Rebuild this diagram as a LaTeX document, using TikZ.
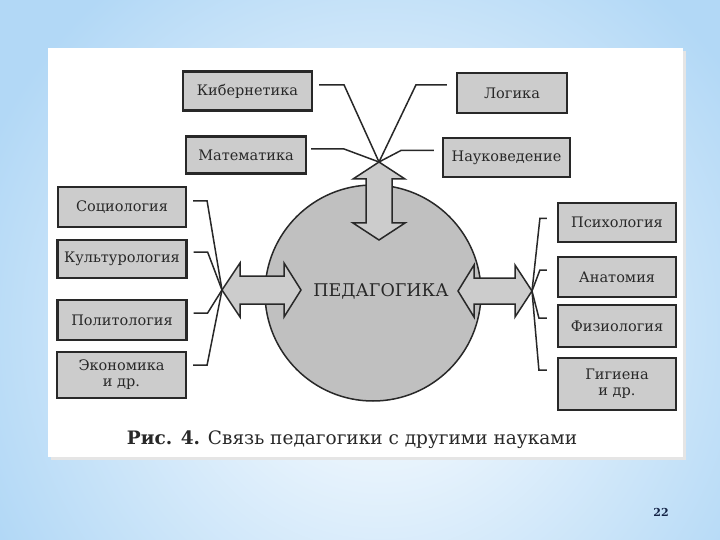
\documentclass[tikz,border=0pt]{standalone}
\usepackage{fontspec}
\setmainfont{DejaVu Serif}
\usetikzlibrary{positioning}
\definecolor{bgblue}{RGB}{178,216,246}
\definecolor{boxgray}{RGB}{204,204,204}
\definecolor{inkgray}{RGB}{40,40,40}
\definecolor{pagenum}{RGB}{20,35,70}

\begin{document}
\begin{tikzpicture}
    [x=1pt, y=-1pt,
     science/.style={draw=inkgray, line width=2.2pt, fill=boxgray, text=inkgray,
        align=center, inner sep=2pt, font=\fontsize{14.5}{16}\selectfont},
     link/.style={draw=inkgray, line width=1.5pt},
     bigarrow/.style={draw=inkgray, line width=1.5pt, fill=boxgray, line join=miter}]
    \useasboundingbox (0,0) rectangle (720,540);
    % slide background
    \fill[bgblue] (0,0) rectangle (720,540);
    \shade[inner color=white, outer color=bgblue] (380,330) ellipse (430 and 440);
    \fill[black!10] (51,51) rectangle (686,460);
    \fill[white] (48,48) rectangle (683,457);

    % central circle
    \node[circle, draw=inkgray, line width=1.5pt, fill=boxgray!94!black,
        minimum size=216pt, inner sep=0pt] (ped) at (373,293) {};

    % upper sciences
    \node[science, minimum width=129pt, minimum height=39pt] (kib) at (247.5,91) {Кибернетика};
    \node[science, minimum width=110pt, minimum height=40pt] (log) at (512,93) {Логика};
    \node[science, minimum width=120pt, minimum height=37pt] (mat) at (246,155) {Математика};
    \node[science, minimum width=127pt, minimum height=39pt] (nauk) at (506.5,157.5) {Науковедение};

    % left sciences
    \node[science, minimum width=128pt, minimum height=40pt] (soc) at (122,207) {Социология};
    \node[science, minimum width=129pt, minimum height=38pt] (kult) at (122,259) {Культурология};
    \node[science, minimum width=129pt, minimum height=40pt] (pol) at (122,320) {Политология};
    \node[science, minimum width=129pt, minimum height=46pt] (eko) at (121.5,375) {Экономика\\и др.};

    % right sciences
    \node[science, minimum width=118pt, minimum height=39pt] (psy) at (617,222.5) {Психология};
    \node[science, minimum width=118pt, minimum height=40pt] (ana) at (617,277) {Анатомия};
    \node[science, minimum width=118pt, minimum height=42pt] (fiz) at (617,326) {Физиология};
    \node[science, minimum width=118pt, minimum height=52pt] (gig) at (617,384) {Гигиена\\и др.};

    \coordinate (topjoin) at (379,162);
    \coordinate (leftjoin) at (222,290);
    \coordinate (rightjoin) at (532,291);

    % connectors
    \draw[link] ([shift={(6,-6)}]kib.east) -- ++(25,0) -- (topjoin);
    \draw[link] ([shift={(-9,-8)}]log.west) -- ++(-31,0) -- (topjoin);
    \draw[link] ([shift={(4,-6)}]mat.east) -- ++(33,0) -- (topjoin);
    \draw[link] ([shift={(-8,-7)}]nauk.west) -- ++(-33,0) -- (topjoin);

    \draw[link] ([shift={(6,-6)}]soc.east) -- ++(14,0) -- (leftjoin);
    \draw[link] ([shift={(6,-7)}]kult.east) -- ++(14,0) -- (leftjoin);
    \draw[link] ([shift={(6,-7)}]pol.east) -- ++(14,0) -- (leftjoin);
    \draw[link] ([shift={(6,-10)}]eko.east) -- ++(14,0) -- (leftjoin);

    \draw[link] ([shift={(-10,-4)}]psy.west) -- ++(-7,0) -- (rightjoin);
    \draw[link] ([shift={(-10,-7)}]ana.west) -- ++(-7,0) -- (rightjoin);
    \draw[link] ([shift={(-10,-8)}]fiz.west) -- ++(-8,0) -- (rightjoin);
    \draw[link] ([shift={(-10,-14)}]gig.west) -- ++(-8,0) -- (rightjoin);

    % double arrows
    \draw[bigarrow] (topjoin) -- (405,179) -- (392,179) -- (392,223) -- (405,223)
        -- (379,240) -- (353,223) -- (366,223) -- (366,179) -- (353,179) -- cycle;
    \draw[bigarrow] (leftjoin) -- (240,263) -- (240,276) -- (284,276) -- (284,263)
        -- (301,290) -- (284,317) -- (284,304) -- (240,304) -- (240,317) -- cycle;
    \draw[bigarrow] (458,291) -- (474,265) -- (474,278) -- (515,278) -- (515,265)
        -- (rightjoin) -- (515,317) -- (515,304) -- (474,304) -- (474,317) -- cycle;

    \node[text=inkgray, font=\fontsize{17.5}{20}\selectfont] (pedtext) at (381,291) {ПЕДАГОГИКА};

    % caption and slide number
    \node[text=inkgray, font=\fontsize{18.5}{22}\selectfont] (caption) at (352,440)
        {\textbf{Рис. 4.} Связь педагогики с другими науками};
    \node[text=pagenum, font=\bfseries\fontsize{11}{13}\selectfont] (pnum) at (661,512) {22};
\end{tikzpicture}
\end{document}
